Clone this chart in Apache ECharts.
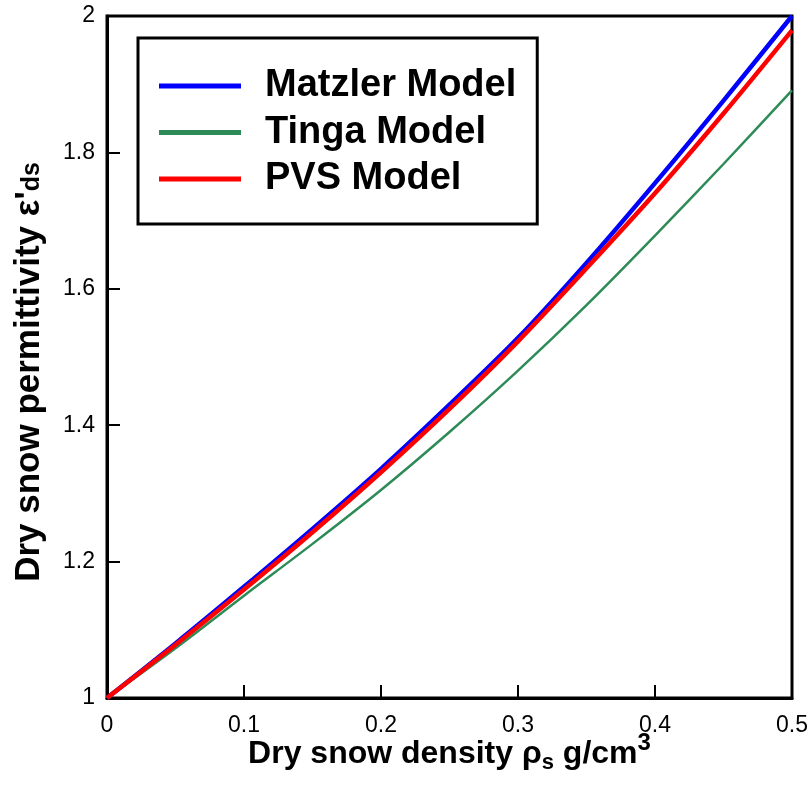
<!DOCTYPE html>
<html>
<head>
<meta charset="utf-8">
<script src="https://cdn.jsdelivr.net/npm/echarts@6/dist/echarts.min.js"></script>
<style>
  html, body { margin: 0; padding: 0; background: #fff; }
  #chart { width: 811px; height: 785px; }
</style>
</head>
<body>
<div id="chart"></div>
<script>
// Dry snow density (g/cm^3)
const density = [0, 0.05, 0.1, 0.15, 0.2, 0.25, 0.3, 0.35, 0.4, 0.45, 0.5];
// Real permittivity of dry snow for each model
const matzler = [1.000, 1.080, 1.163, 1.248, 1.336, 1.430, 1.528, 1.638, 1.755, 1.876, 2.000];
const tinga   = [1.000, 1.073, 1.150, 1.226, 1.305, 1.390, 1.480, 1.576, 1.678, 1.783, 1.891];
const pvs     = [1.000, 1.078, 1.159, 1.243, 1.331, 1.424, 1.523, 1.630, 1.740, 1.857, 1.979];

const xTicks = { min: 0, max: 0.5, step: 0.1 };
const yTicks = { min: 1, max: 2, step: 0.2 };

const FONT = '"Liberation Sans", Arial, sans-serif';

function pairs(ys) { return density.map((x, i) => [x, ys[i]]); }

const chart = echarts.init(document.getElementById('chart'), null, { renderer: 'canvas' });

chart.setOption({
  backgroundColor: '#fff',
  animation: false,
  grid: {
    left: 107, top: 16, right: 19, bottom: 87,
    containLabel: false, outerBoundsMode: 'none',
    show: true, borderColor: '#000', borderWidth: 3, backgroundColor: 'transparent'
  },
  legend: {
    left: 138, top: 38,
    orient: 'vertical',
    padding: [28, 21, 25, 21],
    borderColor: '#000', borderWidth: 3,
    icon: 'rect',
    itemWidth: 82, itemHeight: 5, itemGap: 6.5,
    textStyle: {
      fontFamily: FONT, fontWeight: 'bold', fontSize: 38, color: '#000',
      lineHeight: 40, padding: [0, 0, 0, 19]
    },
    data: ['Matzler Model', 'Tinga Model', 'PVS Model']
  },
  xAxis: {
    type: 'value', min: xTicks.min, max: xTicks.max, interval: xTicks.step,
    axisLine: { show: true, lineStyle: { color: '#000', width: 3 } },
    axisTick: { show: true, inside: true, length: 13, lineStyle: { color: '#000', width: 2 } },
    axisLabel: { fontFamily: FONT, fontSize: 23, color: '#000', margin: 16 },
    splitLine: { show: false },
    name: '{t|Dry snow density ρ}{sub|s}{t| g/cm}{sup|3}',
    nameLocation: 'middle', nameGap: 34, nameMoveOverlap: false,
    nameTextStyle: {
      rich: {
        t: { fontFamily: FONT, fontWeight: 'bold', fontSize: 32, color: '#000', lineHeight: 38, verticalAlign: 'bottom' },
        sub: { fontFamily: FONT, fontWeight: 'bold', fontSize: 22, color: '#000', lineHeight: 38, verticalAlign: 'bottom', padding: [0, 0, -4, 0] },
        sup: { fontFamily: FONT, fontWeight: 'bold', fontSize: 24, color: '#000', lineHeight: 38, verticalAlign: 'bottom', padding: [0, 0, 15, 0] }
      }
    }
  },
  yAxis: {
    type: 'value', min: yTicks.min, max: yTicks.max, interval: yTicks.step,
    axisLine: { show: true, lineStyle: { color: '#000', width: 3 } },
    axisTick: { show: true, inside: true, length: 13, lineStyle: { color: '#000', width: 2 } },
    axisLabel: { fontFamily: FONT, fontSize: 23, color: '#000', margin: 12 },
    splitLine: { show: false }
  },
  graphic: [{
    type: 'text',
    x: 27, y: 372,
    rotation: Math.PI / 2,
    style: {
      text: '{t|Dry snow permittivity ε\'}{sub|ds}',
      align: 'center', verticalAlign: 'middle',
      rich: {
        t: { fontFamily: FONT, fontWeight: 'bold', fontSize: 35, fill: '#000', lineHeight: 40, verticalAlign: 'bottom' },
        sub: { fontFamily: FONT, fontWeight: 'bold', fontSize: 25, fill: '#000', lineHeight: 40, verticalAlign: 'bottom', padding: [0, 0, 2, 0] }
      }
    }
  }],
  series: [
    { name: 'Matzler Model', type: 'line', data: pairs(matzler), smooth: 0.3, symbol: 'none',
      lineStyle: { color: '#0000ff', width: 4.5 }, itemStyle: { color: '#0000ff' }, z: 3 },
    { name: 'Tinga Model', type: 'line', data: pairs(tinga), smooth: 0.3, symbol: 'none',
      lineStyle: { color: '#2e8b57', width: 2.5 }, itemStyle: { color: '#2e8b57' }, z: 2 },
    { name: 'PVS Model', type: 'line', data: pairs(pvs), smooth: 0.3, symbol: 'none',
      lineStyle: { color: '#ff0000', width: 4.5 }, itemStyle: { color: '#ff0000' }, z: 4 }
  ]
});
</script>
</body>
</html>
